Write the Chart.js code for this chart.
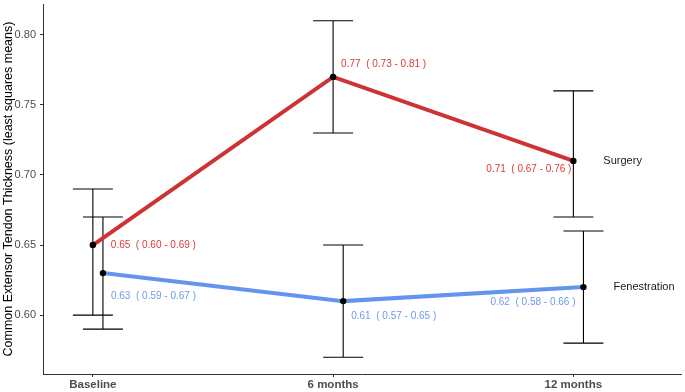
<!DOCTYPE html>
<html>
<head>
<meta charset="utf-8">
<script src="https://cdn.jsdelivr.net/npm/chart.js@4"></script>
<style>
html,body{margin:0;padding:0;background:#fff;}
#wrap{width:685px;height:392px;position:relative;}
</style>
</head>
<body>
<div id="wrap"><canvas id="c" width="685" height="392"></canvas></div>
<script>
const categories = ['Baseline', '6 months', '12 months'];
const seriesNames = ['Surgery', 'Fenestration'];
const surgeryMean = [0.65, 0.77, 0.71];
const surgeryLow  = [0.60, 0.73, 0.67];
const surgeryHigh = [0.69, 0.81, 0.76];
const fenMean = [0.63, 0.61, 0.62];
const fenLow  = [0.59, 0.57, 0.58];
const fenHigh = [0.67, 0.65, 0.66];
const yTicks = [0.60, 0.65, 0.70, 0.75, 0.80];

const RED = '#CD3333', RED_TXT = '#D93A3A';
const BLUE = '#6495ED', BLUE_TXT = '#6E9BEA';
const DODGE = 0.042;
const FONT = '"Liberation Sans", Arial, sans-serif';

const catIdx = categories.map((_, i) => i);
const surgeryPts = catIdx.map(i => ({x: i, y: surgeryMean[i]}));
const fenPts = catIdx.map(i => ({x: i + DODGE, y: fenMean[i]}));

// label placement offsets (px) : [dx, dy, align]
const labelOffsets = [
  [[18, 0, 'left'], [8, -13, 'left'], [-2, 8, 'right']],
  [[8, 23, 'left'], [8, 15, 'left'], [-8, 15, 'right']]
];
const nameOffset = [30, 0];

function fmt(v){ return v.toFixed(2); }

const errPlugin = {
  id: 'errbars',
  beforeDatasetsDraw(chart) {
    const {ctx, scales:{x, y}} = chart;
    const groups = [[surgeryLow, surgeryHigh, 0], [fenLow, fenHigh, DODGE]];
    ctx.save();
    ctx.strokeStyle = '#000';
    ctx.lineWidth = 1.1;
    groups.forEach(([lo, hi, off]) => {
      catIdx.forEach(i => {
        const px = x.getPixelForValue(i + off);
        const pl = y.getPixelForValue(lo[i]);
        const ph = y.getPixelForValue(hi[i]);
        ctx.beginPath();
        ctx.moveTo(px, pl); ctx.lineTo(px, ph);
        ctx.moveTo(px - 20, pl); ctx.lineTo(px + 20, pl);
        ctx.moveTo(px - 20, ph); ctx.lineTo(px + 20, ph);
        ctx.stroke();
      });
    });
    ctx.restore();
  },
  afterDatasetsDraw(chart) {
    const {ctx, scales:{x, y}} = chart;
    const groups = [
      [surgeryMean, surgeryLow, surgeryHigh, 0, RED_TXT],
      [fenMean, fenLow, fenHigh, DODGE, BLUE_TXT]
    ];
    ctx.save();
    ctx.font = '10px ' + FONT;
    ctx.textBaseline = 'middle';
    groups.forEach(([m, lo, hi, off, col], g) => {
      ctx.fillStyle = col;
      catIdx.forEach(i => {
        const px = x.getPixelForValue(i + off);
        const py = y.getPixelForValue(m[i]);
        const [dx, dy, al] = labelOffsets[g][i];
        ctx.textAlign = al;
        ctx.fillText(fmt(m[i]) + '  ( ' + fmt(lo[i]) + ' - ' + fmt(hi[i]) + ' )', px + dx, py + dy);
      });
    });
    ctx.font = '11px ' + FONT;
    ctx.fillStyle = '#1a1a1a';
    ctx.textAlign = 'left';
    const last = categories.length - 1;
    ctx.fillText(seriesNames[0], x.getPixelForValue(last) + nameOffset[0], y.getPixelForValue(surgeryMean[last]) + nameOffset[1]);
    ctx.fillText(seriesNames[1], x.getPixelForValue(last + DODGE) + nameOffset[0], y.getPixelForValue(fenMean[last]) + nameOffset[1]);
    ctx.restore();
  }
};

function noPad(s){ s.paddingTop = 0; s.paddingBottom = 0; s.paddingLeft = 0; s.paddingRight = 0; }

new Chart(document.getElementById('c'), {
  type: 'line',
  data: {
    datasets: [
      {label: seriesNames[0], data: surgeryPts, borderColor: RED, borderWidth: 4,
       pointRadius: 3.2, pointBackgroundColor: '#000', pointBorderWidth: 0, tension: 0},
      {label: seriesNames[1], data: fenPts, borderColor: BLUE, borderWidth: 4,
       pointRadius: 3.2, pointBackgroundColor: '#000', pointBorderWidth: 0, tension: 0}
    ]
  },
  options: {
    responsive: false,
    animation: false,
    layout: {padding: {top: 2, right: 2, left: 0, bottom: 0}},
    plugins: {legend: {display: false}, tooltip: {enabled: false}},
    scales: {
      x: {
        type: 'linear',
        min: -0.2075, max: 2.448,
        afterBuildTicks: s => { s.ticks = catIdx.map(v => ({value: v})); },
        afterFit: s => { s.height = 18; noPad(s); },
        grid: {display: true, drawOnChartArea: false, tickLength: 3, color: '#333'},
        border: {display: true, color: '#333', width: 1},
        ticks: {
          callback: v => categories[v],
          font: {family: FONT, size: 11.5, weight: 'bold'},
          color: '#4D4D4D', padding: 1, maxRotation: 0
        }
      },
      y: {
        min: 0.558, max: 0.822,
        afterBuildTicks: s => { s.ticks = yTicks.map(v => ({value: v})); },
        afterFit: s => { s.width = 43; noPad(s); },
        grid: {display: true, drawOnChartArea: false, tickLength: 3, color: '#333'},
        border: {display: true, color: '#333', width: 1},
        ticks: {
          callback: v => v.toFixed(2),
          font: {family: FONT, size: 11},
          color: '#4D4D4D', padding: 4
        },
        title: {
          display: true,
          text: 'Common Extensor Tendon Thickness (least squares means)',
          font: {family: FONT, size: 12.5},
          color: '#000', padding: {top: 1, bottom: 0}
        }
      }
    }
  },
  plugins: [errPlugin]
});
</script>
</body>
</html>
